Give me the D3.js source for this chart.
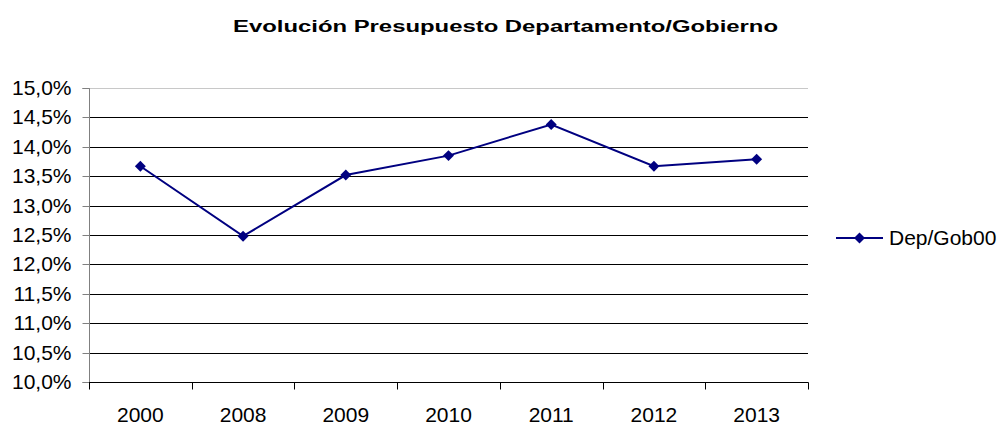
<!DOCTYPE html>
<html>
<head>
<meta charset="utf-8">
<script src="https://cdn.jsdelivr.net/npm/d3@7"></script>
<style>
  html, body { margin: 0; padding: 0; background: #fff; }
  svg { display: block; font-family: "Liberation Sans", Arial, sans-serif; }
</style>
</head>
<body>
<svg id="chart" width="1005" height="424"></svg>
<script>
const titleText = "Evolución Presupuesto Departamento/Gobierno";
const categories = ["2000", "2008", "2009", "2010", "2011", "2012", "2013"];
const seriesName = "Dep/Gob00";
const values = [13.67, 12.48, 13.52, 13.85, 14.38, 13.67, 13.79];
const yTicks = [10, 10.5, 11, 11.5, 12, 12.5, 13, 13.5, 14, 14.5, 15];

(function () {
const svg = d3.select("#chart");
const pL = 89, pR = 808, pT = 88, pB = 382;
const navy = "#000080";

const locale = d3.formatLocale({decimal: ",", thousands: ".", grouping: [3], currency: ["", "€"]});
const fmt = locale.format(".1f");

const x = d3.scaleBand().domain(categories).range([pL, pR]).padding(0);
const y = d3.scaleLinear().domain([10, 15]).range([pB, pT]);

// title
svg.append("text")
  .attr("x", 505.5).attr("y", 32)
  .attr("text-anchor", "middle")
  .attr("font-size", 16).attr("font-weight", "bold")
  .attr("textLength", 545).attr("lengthAdjust", "spacingAndGlyphs")
  .attr("fill", "#000")
  .text(titleText);

// gridlines
svg.append("g").selectAll("line").data(yTicks.filter(d => d !== 10)).join("line")
  .attr("x1", pL).attr("x2", pR)
  .attr("y1", d => Math.round(y(d)) + 0.5).attr("y2", d => Math.round(y(d)) + 0.5)
  .attr("stroke", d => d === 15 ? "#c8c8c8" : "#000")
  .attr("stroke-width", 1);

// y axis
const yAxis = d3.axisLeft(y).tickValues(yTicks).tickFormat(d => fmt(d) + "%").tickSize(7).tickPadding(11);
const gy = svg.append("g").attr("transform", `translate(${pL + 0.5},0)`).call(yAxis);
gy.select(".domain").attr("stroke", "#808080").attr("d", `M-7,${Math.round(pT)+0.5}H0V${Math.round(pB)+0.5}H-7`);
gy.selectAll(".tick").attr("transform", d => `translate(0,${Math.round(y(d)) + 0.5})`);
gy.selectAll(".tick line").attr("stroke", "#808080");
gy.selectAll(".tick text").attr("font-size", 21).attr("font-family", "Liberation Sans, Arial, sans-serif").attr("fill", "#000");

// x axis
const xTickPos = categories.map(c => x(c)).concat([pR]);
const gx = svg.append("g").attr("transform", `translate(0,${Math.round(pB) + 0.5})`);
gx.append("line").attr("x1", pL).attr("x2", pR + 0.5).attr("y1", 0).attr("y2", 0).attr("stroke", "#000");
gx.selectAll("line.tk").data(xTickPos).join("line").attr("class", "tk")
  .attr("x1", d => Math.round(d) + 0.5).attr("x2", d => Math.round(d) + 0.5)
  .attr("y1", 0).attr("y2", 7).attr("stroke", "#000");
gx.selectAll("text").data(categories).join("text")
  .attr("x", d => x(d) + x.bandwidth() / 2)
  .attr("y", 39)
  .attr("text-anchor", "middle")
  .attr("font-size", 21)
  .attr("fill", "#000")
  .text(d => d);

// line
const line = d3.line().x((d, i) => x(categories[i]) + x.bandwidth() / 2).y(d => y(d));
svg.append("path").datum(values)
  .attr("d", line).attr("fill", "none")
  .attr("stroke", navy).attr("stroke-width", 2);

const diamond = d3.symbol().type(d3.symbolSquare).size(60);
svg.append("g").selectAll("path").data(values).join("path")
  .attr("d", diamond)
  .attr("transform", (d, i) => `translate(${x(categories[i]) + x.bandwidth() / 2},${y(d)}) rotate(45)`)
  .attr("fill", navy);

// legend
const lg = svg.append("g").attr("transform", "translate(836,238)");
lg.append("line").attr("x1", 0).attr("x2", 47).attr("y1", 0).attr("y2", 0).attr("stroke", navy).attr("stroke-width", 2);
lg.append("path").attr("d", diamond).attr("transform", "translate(23.5,0) rotate(45)").attr("fill", navy);
lg.append("text").attr("x", 53).attr("y", 0).attr("dy", "0.35em")
  .attr("font-size", 21).attr("fill", "#000").text(seriesName);
})();
</script>
</body>
</html>
